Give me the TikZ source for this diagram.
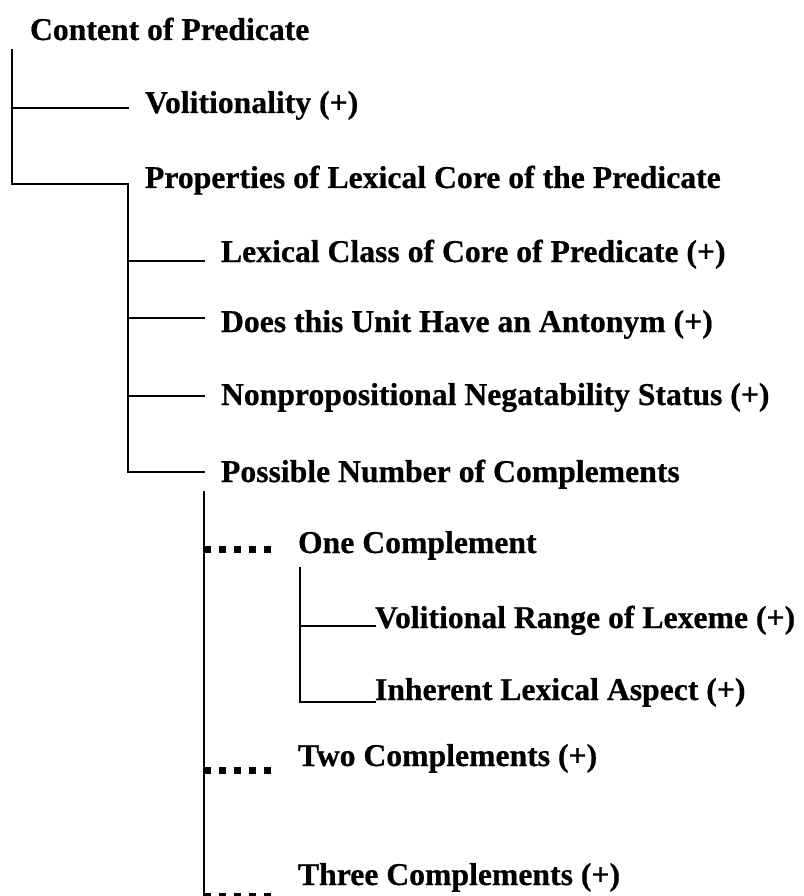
\documentclass[tikz,border=0pt]{standalone}
\usepackage{fontspec}
\setmainfont{Liberation Serif}[BoldFeatures={FakeBold=0.6}]
\begin{document}
\begin{tikzpicture}[x=1pt,y=-1pt,
  item/.style={anchor=base west,inner sep=0pt,outer sep=0pt,
    font=\fontsize{31.7}{38}\selectfont\bfseries},
  branch/.style={line width=2pt,line cap=rect,line join=miter},
  dotlink/.style={line width=7pt,dash pattern=on 7pt off 8pt,line cap=butt}]
\fill[white] (0,0) rectangle (803,896);
\useasboundingbox (0,0) rectangle (803,896);
\clip (0,0) rectangle (803,896);

% labels
\node[item] (root)  at (30,40)   {Content of Predicate};
\node[item] (vol)   at (145,113) {Volitionality (+)};
\node[item] (props) at (145,188) {Properties of Lexical Core of the Predicate};
\node[item] (lexc)  at (221,262) {Lexical Class of Core of Predicate (+)};
\node[item] (anto)  at (221,332) {Does this Unit Have an Antonym (+)};
\node[item] (negs)  at (221,405) {Nonpropositional Negatability Status (+)};
\node[item] (ncomp) at (221,482) {Possible Number of Complements};
\node[item] (one)   at (298,553) {One Complement};
\node[item] (vrl)   at (375,628) {Volitional Range of Lexeme (+)};
\node[item] (ila)   at (375,700) {Inherent Lexical Aspect (+)};
\node[item] (two)   at (298,766) {Two Complements (+)};
\node[item] (three) at (298,885) {Three Complements (+)};

% trunk and branch points
\coordinate (t0)  at (12,50);
\coordinate (t0a) at (12,108);
\coordinate (t0b) at (12,184);
\coordinate (e0a) at (128,108);
\coordinate (t1)  at (128,184);
\coordinate (t1a) at (128,261);
\coordinate (t1b) at (128,318);
\coordinate (t1c) at (128,396);
\coordinate (t1d) at (128,472);
\coordinate (e1a) at (204,261);
\coordinate (e1b) at (204,318);
\coordinate (e1c) at (204,396);
\coordinate (e1d) at (204,472);
\coordinate (t2)  at (204,492);
\coordinate (t2a) at (204,549);
\coordinate (t2b) at (204,770);
\coordinate (t2c) at (204,896);
\coordinate (t2e) at (204,900);
\coordinate (e2a) at (272,549);
\coordinate (e2b) at (272,770);
\coordinate (e2c) at (272,896);
\coordinate (t3)  at (300,568);
\coordinate (t3a) at (300,626);
\coordinate (t3b) at (300,702);
\coordinate (e3a) at (vrl.base west |- t3a);
\coordinate (e3b) at (ila.base west |- t3b);

% level 1
\draw[branch] (t0) -- (t0b) -- (t1);
\draw[branch] (t0a) -- (e0a);
% level 2
\draw[branch] (t1) -- (t1d) -- (e1d);
\draw[branch] (t1a) -- (e1a);
\draw[branch] (t1b) -- (e1b);
\draw[branch] (t1c) -- (e1c);
% level 3
\draw[branch] (t2) -- (t2e);
\draw[dotlink] (t2a) -- (e2a);
\draw[dotlink] (t2b) -- (e2b);
\draw[dotlink] (t2c) -- (e2c);
% level 4
\draw[branch] (t3) -- (t3b) -- (e3b);
\draw[branch] (t3a) -- (e3a);
\end{tikzpicture}
\end{document}
